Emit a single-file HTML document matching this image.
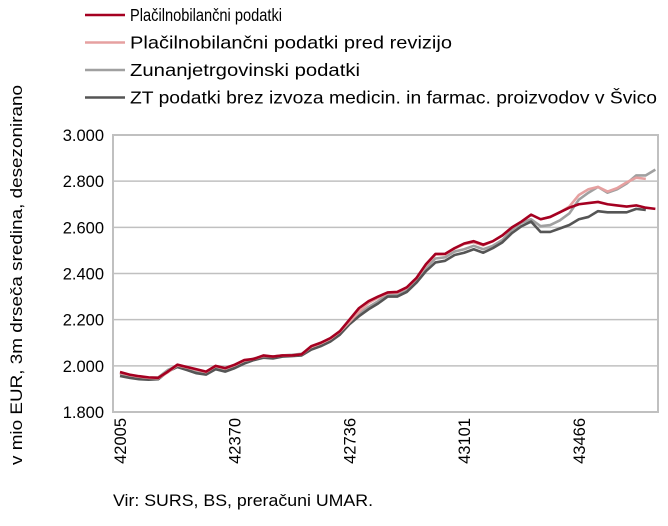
<!DOCTYPE html>
<html><head><meta charset="utf-8"><style>
body{margin:0;background:#fff;}
svg text{font-family:"Liberation Sans",sans-serif;fill:#000;}
</style></head><body>
<svg width="668" height="521" xmlns="http://www.w3.org/2000/svg">
<g id="legend"></g>
<g id="grid"></g>
<g id="series"></g>
<g id="axes"></g>
<text transform="translate(22,275) rotate(-90)" text-anchor="middle" font-size="17" textLength="380" lengthAdjust="spacingAndGlyphs">v mio EUR, 3m drseča sredina, desezonirano</text>
<text x="113" y="506" font-size="17" textLength="260" lengthAdjust="spacingAndGlyphs">Vir: SURS, BS, preračuni UMAR.</text>
</svg>
<script>
const xTickLabels=["42005","42370","42736","43101","43466"];
const xTickIndex=[0,12,24,36,48];
const yTicks=[1800,2000,2200,2400,2600,2800,3000];
const yTickLabels=["1.800","2.000","2.200","2.400","2.600","2.800","3.000"];
const seriesNames=["Plačilnobilančni podatki","Plačilnobilančni podatki pred revizijo","Zunanjetrgovinski podatki","ZT podatki brez izvoza medicin. in farmac. proizvodov v Švico"];
const red=[1973,1962,1955,1950,1948,1975,2005,1995,1985,1975,2000,1990,2005,2025,2030,2045,2040,2045,2045,2050,2085,2100,2120,2150,2200,2250,2280,2300,2318,2320,2340,2380,2440,2485,2485,2510,2530,2540,2525,2540,2565,2600,2625,2655,2635,2645,2665,2685,2700,2705,2710,2700,2695,2690,2695,2685,2680];
const pink=[1970,1960,1953,1948,1946,1972,2002,1993,1983,1973,1998,1988,2003,2022,2030,2043,2040,2045,2045,2050,2082,2097,2117,2148,2190,2235,2272,2295,2315,2318,2338,2378,2435,2482,2483,2508,2528,2535,2522,2540,2565,2600,2625,2655,2635,2645,2665,2690,2740,2765,2775,2755,2770,2795,2815,2810];
const gray=[1965,1955,1950,1948,1950,1982,2000,1990,1978,1970,1993,1985,1998,2018,2032,2042,2040,2045,2048,2052,2078,2092,2112,2145,2190,2225,2255,2280,2310,2310,2330,2370,2425,2465,2470,2495,2505,2520,2505,2520,2545,2590,2620,2635,2605,2610,2630,2660,2720,2750,2775,2750,2765,2790,2825,2825,2850];
const dark=[1956,1948,1942,1940,1942,1975,1995,1982,1968,1962,1985,1975,1990,2010,2025,2035,2032,2040,2042,2045,2070,2085,2105,2135,2180,2215,2245,2270,2300,2300,2320,2360,2410,2448,2455,2480,2490,2505,2490,2510,2535,2575,2605,2625,2580,2580,2595,2610,2635,2645,2670,2665,2665,2665,2680,2675];
const colors=["#a50021","#e6a0a0","#a0a0a0","#555555"];
const legendWidths=[152,322,230,527];
const NS="http://www.w3.org/2000/svg";
const L=113,R=658,T=135,B=412;
const x=i=>120+i*9.56;
const y=v=>B-(v-1800)/1200*(B-T);
function mk(tag,attrs,parent,txt){const e=document.createElementNS(NS,tag);for(const k in attrs)e.setAttribute(k,attrs[k]);if(txt!==undefined)e.textContent=txt;document.getElementById(parent).appendChild(e);return e;}
yTicks.forEach((v,i)=>{
  if(i>0&&i<yTicks.length-1){const g=mk('line',{x1:L,x2:R,y1:y(v),y2:y(v),stroke:'#c0c0c0','stroke-width':1.5},'grid');
  
  }
  const t=mk('text',{x:104,y:y(v)+6,'text-anchor':'end','font-size':16.5},'axes',yTickLabels[i]);
  
  
});
const fr=mk('rect',{x:L,y:T,width:R-L,height:B-T,fill:'none',stroke:'#c0c0c0','stroke-width':2},'axes');


xTickLabels.forEach((s,i)=>{
  const t=mk('text',{transform:`translate(${x(xTickIndex[i])+6},418) rotate(-90)`,'text-anchor':'end','font-size':16.5},'axes',s);
  
  
});
[gray,dark,pink,red].forEach((d,k)=>{
  const ci=[2,3,1,0][k];
  const p=mk('polyline',{points:d.map((v,i)=>x(i)+','+y(v)).join(' '),fill:'none',stroke:colors[ci],'stroke-width':2.6,'stroke-linejoin':'round'},'series');
  
  
});
seriesNames.forEach((n,i)=>{
  const yy=15+i*27.5;
  const l=mk('line',{x1:85,x2:125,y1:yy,y2:yy,stroke:colors[i],'stroke-width':2.6},'legend');
  
  
  const t=mk('text',{x:130,y:yy+6,'font-size':17.5,textLength:legendWidths[i],lengthAdjust:'spacingAndGlyphs'},'legend',n);
  
  
});
</script>
</body></html>
